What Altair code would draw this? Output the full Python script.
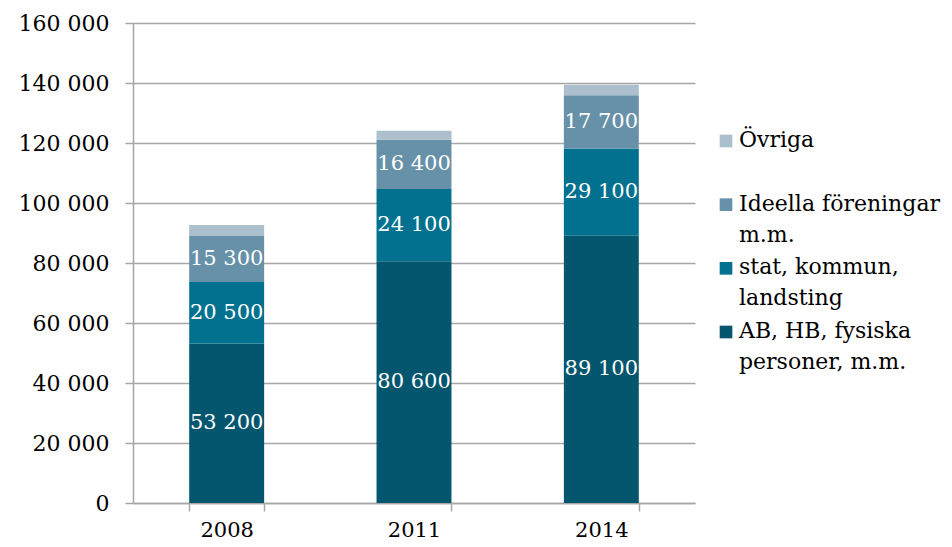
import altair as alt
import pandas as pd

years = ["2008", "2011", "2014"]
categories = [
    "AB, HB, fysiska|personer, m.m.",
    "stat, kommun,|landsting",
    "Ideella föreningar|m.m.",
    "Övriga",
]
colors = ["#04566f", "#02718f", "#6791a9", "#abbfcc"]
ab = [53200, 80600, 89100]
stat = [20500, 24100, 29100]
ideella = [15300, 16400, 17700]
ovriga = [3700, 3000, 3500]

series = [ab, stat, ideella, ovriga]
rows = []
for ci, (cat, vals) in enumerate(zip(categories, series)):
    for y, v in zip(years, vals):
        rows.append({"year": y, "category": cat, "value": v, "order": ci,
                     "showlabel": ci < 3})
df = pd.DataFrame(rows)

# legend entries, top to bottom
legend_df = pd.DataFrame({"category": categories[::-1],
                          "pos": list(range(len(categories)))})

FONT = "DejaVu Serif"
FS = 21
fmt_expr = "replace(format(datum.value, ','), ',', ' ')"

color_scale = alt.Scale(domain=categories, range=colors)
y_scale = alt.Scale(domain=[0, 160000])

base = alt.Chart(df).transform_stack(
    stack="value", groupby=["year"], as_=["y0", "y1"],
    sort=[alt.SortField("order", order="ascending")]
).transform_calculate(mid="(datum.y0 + datum.y1) / 2")

x_enc = alt.X("year:N", title=None,
              scale=alt.Scale(paddingInner=0.6, paddingOuter=0.3),
              axis=alt.Axis(labelAngle=0, labelFont=FONT, labelFontSize=FS,
                            labelColor="#000000", labelPadding=8,
                            domainColor="#a6a6a6", domainWidth=1.5,
                            tickColor="#a6a6a6", tickWidth=1.5, tickSize=8,
                            tickBand="extent", grid=False))

bars = base.mark_bar().encode(
    x=x_enc,
    y=alt.Y("y0:Q", title=None, scale=y_scale,
            axis=alt.Axis(values=list(range(0, 160001, 20000)),
                          labelExpr=fmt_expr, labelFont=FONT,
                          labelFontSize=22, labelColor="#000000",
                          labelPadding=16,
                          domainColor="#a6a6a6", domainWidth=1.5,
                          tickColor="#a6a6a6", tickWidth=1.5, tickSize=8,
                          gridColor="#a6a6a6", gridWidth=1.5)),
    y2="y1:Q",
    color=alt.Color("category:N", scale=color_scale, legend=None),
    order=alt.Order("order:Q"),
)

labels = base.transform_filter("datum.showlabel").transform_calculate(
    valuetext="replace(format(datum.value, ','), ',', ' ')"
).mark_text(
    font=FONT, fontSize=FS, color="white", baseline="middle"
).encode(
    x=alt.X("year:N"),
    y=alt.Y("mid:Q", scale=y_scale),
    text=alt.Text("valuetext:N"),
)

main = alt.layer(bars, labels)

leg_y = alt.Y("pos:O", axis=None,
              scale=alt.Scale(type="point", padding=0, range=[118, 309]))

leg_sq = alt.Chart(legend_df).mark_square(size=160, opacity=1).encode(
    x=alt.value(593),
    y=leg_y,
    color=alt.Color("category:N", scale=color_scale, legend=None),
)

leg_txt = alt.Chart(legend_df).mark_text(
    font=FONT, fontSize=22, color="#000000", align="left", baseline="top",
    lineBreak="|", lineHeight=31, dy=-11,
).encode(
    x=alt.value(606),
    y=leg_y,
    text="category:N",
)

legend = alt.layer(leg_sq, leg_txt)

chart = alt.layer(main, legend).resolve_scale(y="independent").properties(
    width=562, height=480,
    autosize=alt.AutoSizeParams(type="none"),
    padding={"left": 125, "top": 15, "right": 248, "bottom": 38},
).configure_view(stroke=None)

chart.save("out.html", embed_options={"renderer": "svg", "actions": False})
